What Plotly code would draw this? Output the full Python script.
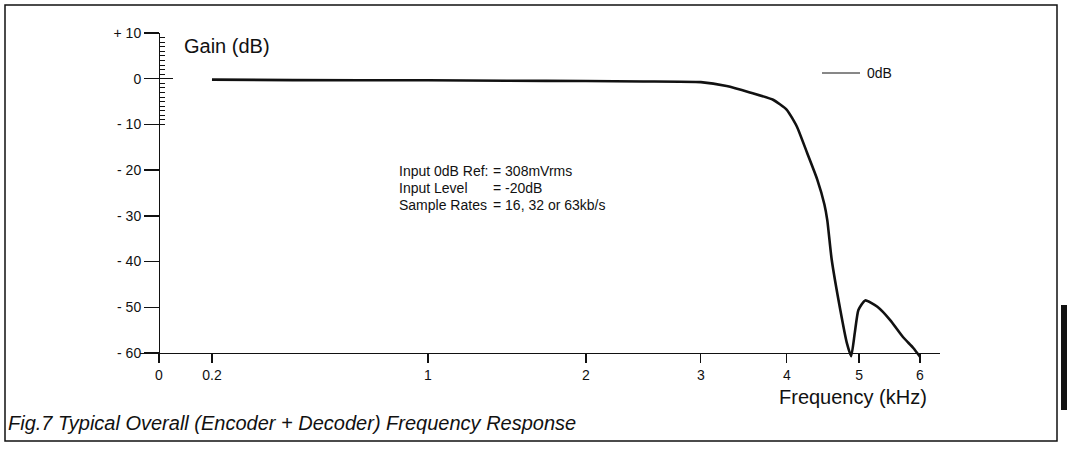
import numpy as np
import plotly.graph_objects as go

# ---- data ----
FREQ_KHZ = [0.2, 0.5, 1.0, 1.5, 2.0, 2.5, 3.0, 3.3, 3.57, 3.84, 4.0, 4.14, 4.28, 4.42,
            4.52, 4.56, 4.62, 4.74, 4.83, 4.89, 4.94, 4.99, 5.10, 5.30, 5.51, 5.72, 5.89, 6.0]
GAIN_DB = [-0.2, -0.3, -0.35, -0.45, -0.5, -0.6, -0.75, -1.6, -3.0, -4.6, -6.8, -10.5, -16.2, -22.0,
           -27.5, -31.0, -39.5, -50.6, -57.8, -60.7, -55.6, -50.6, -48.5, -49.9, -52.8, -56.5, -58.9, -60.8]

X_TICK_KHZ = [0, 0.2, 1, 2, 3, 4, 5, 6]
X_TICK_LABELS = ["0", "0.2", "1", "2", "3", "4", "5", "6"]
Y_TICK_DB = [10, 0, -10, -20, -30, -40, -50, -60]
Y_TICK_LABELS = ["+ 10", "0", "- 10", "- 20", "- 30", "- 40", "- 50", "- 60"]
Y_MINOR_DB = list(range(-10, 11))
NOTE_LABELS = ["Input 0dB Ref:", "Input Level", "Sample Rates"]
NOTE_VALUES = ["= 308mVrms", "= -20dB", "= 16, 32 or 63kb/s"]
SERIES_NAME = "0dB"

# printed (hand-drawn, log-like) frequency scale: fraction of the 0-6 kHz axis length at each tick
SCALE_KHZ = X_TICK_KHZ
SCALE_POS = [0.0, 0.0696, 0.3535, 0.561, 0.712, 0.825, 0.920, 1.0]


def fx(f):
    return np.interp(f, SCALE_KHZ, SCALE_POS)


W, H = 1067, 451
# plot area in window pixels
PL, PR, PT, PB = 140, 940, 33, 358
ML, MR, MT, MB = PL, W - PR, PT, H - PB
PW, PH = PR - PL, PB - PT
X0_PX, X1_PX = 159, 920          # pixel of 0 kHz and 6 kHz
U_MIN = (PL - X0_PX) / (X1_PX - X0_PX)
U_MAX = (PR - X0_PX) / (X1_PX - X0_PX)
DB_PER_PX = 70 / 320
Y_MAX = 10.0
Y_MIN = Y_MAX - PH * DB_PER_PX


def px(xp):
    return (xp - PL) / PW


def py(yp):
    return (PB - yp) / PH


FONT = "Liberation Sans, Arial, Helvetica, sans-serif"
BLACK = "#111111"

fig = go.Figure()
fig.add_trace(go.Scatter(
    x=fx(FREQ_KHZ), y=GAIN_DB, mode="lines", name=SERIES_NAME,
    line=dict(color=BLACK, width=2.6, shape="spline", smoothing=0.5),
    showlegend=False, hoverinfo="skip"))

x_pos_free = (-60 - Y_MIN) / (Y_MAX - Y_MIN)
y_pos_free = (0 - U_MIN) / (U_MAX - U_MIN)

common_y = dict(range=[Y_MIN, Y_MAX], showgrid=False, zeroline=False,
                anchor="free", position=y_pos_free, fixedrange=True)

fig.update_layout(
    width=W, height=H,
    margin=dict(l=ML, r=MR, t=MT, b=MB, pad=0),
    paper_bgcolor="white", plot_bgcolor="white",
    font=dict(family=FONT, color=BLACK, size=14),
    xaxis=dict(range=[U_MIN, U_MAX], showgrid=False, zeroline=False,
               anchor="free", position=x_pos_free, fixedrange=True,
               showline=True, linecolor=BLACK, linewidth=1.3,
               tickvals=fx(X_TICK_KHZ), ticktext=X_TICK_LABELS,
               ticks="outside", ticklen=9, tickwidth=1.3, tickcolor=BLACK,
               tickfont=dict(size=14, family=FONT, color=BLACK)),
    yaxis=dict(**common_y, showline=True, linecolor=BLACK, linewidth=1.3,
               tickvals=Y_TICK_DB, ticktext=Y_TICK_LABELS,
               ticks="outside", ticklen=15, tickwidth=1.3, tickcolor=BLACK,
               tickfont=dict(size=14, family=FONT, color=BLACK)),
    yaxis2=dict(**common_y, overlaying="y", side="left", showline=False,
                tickvals=Y_MINOR_DB, ticks="inside", ticklen=5, tickwidth=1,
                tickcolor=BLACK, showticklabels=False),
    yaxis3=dict(**common_y, overlaying="y", side="left", showline=False,
                tickvals=[0], ticks="inside", ticklen=13, tickwidth=1,
                tickcolor=BLACK, showticklabels=False),
)

# empty traces so the overlay tick axes are rendered
fig.add_trace(go.Scatter(x=[None], y=[None], yaxis="y2", showlegend=False))
fig.add_trace(go.Scatter(x=[None], y=[None], yaxis="y3", showlegend=False))

annotations = [
    dict(text="Gain (dB)", x=px(182), y=py(46), xanchor="left", yanchor="middle",
         font=dict(size=20)),
    dict(text="Frequency (kHz)", x=px(929), y=py(397), xanchor="right", yanchor="middle",
         font=dict(size=20)),
    dict(text="<i>Fig.7 Typical Overall (Encoder + Decoder) Frequency Response</i>",
         x=px(6), y=py(423), xanchor="left", yanchor="middle", font=dict(size=20)),
    dict(text=SERIES_NAME, x=px(865), y=py(73), xanchor="left", yanchor="middle",
         font=dict(size=14)),
]
for i, (lab, val) in enumerate(zip(NOTE_LABELS, NOTE_VALUES)):
    yy = py(171 + 17 * i)
    annotations.append(dict(text=lab, x=px(397), y=yy, xanchor="left", yanchor="middle",
                            font=dict(size=14)))
    annotations.append(dict(text=val, x=px(491), y=yy, xanchor="left", yanchor="middle",
                            font=dict(size=14)))
for a in annotations:
    a.update(xref="paper", yref="paper", showarrow=False)
fig.update_layout(annotations=annotations)

shapes = [
    # page frame
    dict(type="rect", xref="paper", yref="paper", x0=px(5), x1=px(1057), y0=py(441), y1=py(5),
         line=dict(color=BLACK, width=1.5), fillcolor="rgba(0,0,0,0)"),
    # thick scan mark on the right edge
    dict(type="rect", xref="paper", yref="paper", x0=px(1061), x1=px(1068), y0=py(410), y1=py(305),
         line=dict(width=0), fillcolor=BLACK),
    # legend key line
    dict(type="line", xref="paper", yref="paper", x0=px(822), x1=px(860), y0=py(73), y1=py(73),
         line=dict(color=BLACK, width=1)),
]
fig.update_layout(shapes=shapes)

# remove the browser's default 8px page margin so the figure sits at the window origin
fig.write_html("out.html",
               config={"displayModeBar": False, "staticPlot": True},
               post_script="document.body.style.margin='0';document.body.style.overflow='hidden';")
